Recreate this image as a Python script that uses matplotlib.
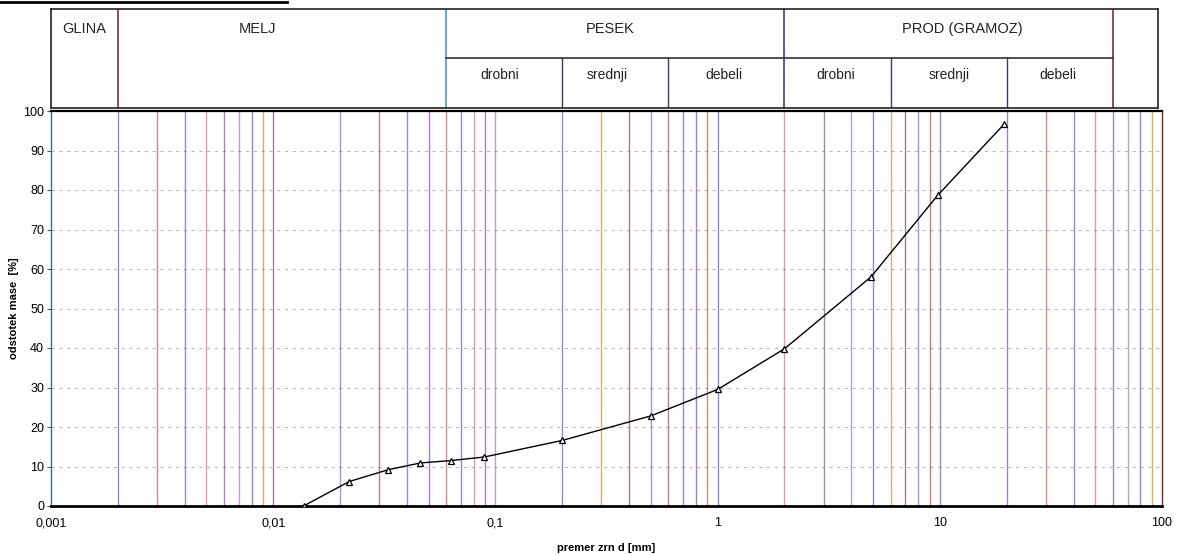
import numpy as np
import matplotlib
matplotlib.use("Agg")
import matplotlib.pyplot as plt
from matplotlib.lines import Line2D

plt.rcParams['font.family'] = ['Liberation Sans', 'DejaVu Sans']

# ---- data ----
grain_d = [0.0137, 0.022, 0.033, 0.046, 0.063, 0.089, 0.2, 0.5, 1.0, 2.0, 4.9, 9.8, 19.5]
mass_pct = [0.0, 6.2, 9.2, 10.9, 11.5, 12.4, 16.6, 22.8, 29.5, 39.8, 58.0, 78.7, 96.7]

x_ticks = [0.001, 0.01, 0.1, 1, 10, 100]
x_tick_labels = ["0,001", "0,01", "0,1", "1", "10", "100"]
y_ticks = [0, 10, 20, 30, 40, 50, 60, 70, 80, 90, 100]

main_bounds = [0.002, 0.06, 2, 60]
main_names = ["GLINA", "MELJ", "PESEK", "PROD (GRAMOZ)"]
main_label_x = [0.00141, 0.0085, 0.33, 12.6]
sub_bounds = [0.2, 0.6, 6, 20]
sub_names = ["drobni", "srednji", "debeli", "drobni", "srednji", "debeli"]
sub_label_x = [0.105, 0.32, 1.07, 3.4, 11.0, 34.0]

W, H = 1177, 555
fig = plt.figure(figsize=(W / 100, H / 100), dpi=100)

# main plot
L, R, T, B = 51, 1162, 111, 506
ax = fig.add_axes([L / W, 1 - B / H, (R - L) / W, (B - T) / H])
ax.set_xscale('log')
ax.set_xlim(0.001, 100)
ax.set_ylim(0, 100)

grid_colors = ['#a070b8', '#d07a7a', '#8a7ad0', '#e09090', '#9a78b0', '#b890cc',
               '#7f7fd0', '#d0a860', '#a06aa0', '#8a90d8', '#c07070', '#9080c0']
ci = 0
for k in range(-3, 2):
    for m in range(1, 10):
        xv = m * 10.0 ** k
        if xv <= 0.001 or xv >= 100:
            continue
        ax.axvline(xv, color=grid_colors[ci % len(grid_colors)], lw=1.0, alpha=0.9, zorder=1)
        ci += 1

for yv in y_ticks[1:-1]:
    ax.axhline(yv, color='#555555', lw=0.8, ls=(0, (3, 4)), alpha=0.4, zorder=1)

ax.plot(grain_d, mass_pct, color='black', lw=1.0, marker='^', ms=5,
        mfc='white', mec='black', mew=0.9, zorder=5)

ax.set_xticks(x_ticks)
ax.set_xticklabels(x_tick_labels)
ax.xaxis.set_minor_locator(matplotlib.ticker.NullLocator())
ax.set_yticks(y_ticks)
ax.tick_params(axis='x', length=0, pad=8, labelsize=9)
ax.tick_params(axis='y', length=3, width=0.8, pad=2, labelsize=9, color='#555555')

ax.set_xlabel("premer zrn d [mm]", fontsize=8, fontweight='bold', labelpad=10)
ax.set_ylabel("odstotek mase  [%]", fontsize=8, fontweight='bold')
ax.yaxis.set_label_coords(-0.029, 0.5)

for s in ['top', 'right', 'left']:
    ax.spines[s].set_linewidth(1.0)
ax.spines['left'].set_color('#3a5fb0')
ax.spines['right'].set_color('#7a2a2a')
ax.spines['top'].set_linewidth(1.6)
ax.spines['bottom'].set_linewidth(2.0)

# header table
HT, HB, HR = 9, 108, 1158
hx = fig.add_axes([L / W, 1 - HB / H, (HR - L) / W, (HB - HT) / H])
hx.set_xscale('log')
hx.set_xlim(0.001, 10 ** (-3 + (HR - L) / 222.2))
hx.set_ylim(0, 1)
hx.set_xticks([])
hx.set_yticks([])
hx.xaxis.set_minor_locator(matplotlib.ticker.NullLocator())
for s in hx.spines.values():
    s.set_linewidth(1.2)
    s.set_color('#222222')

mid = (HB - 58) / (HB - HT)
bcol = ['#7a1f1f', '#3b8fd0', '#2a2a80', '#6a2020']
for xv, c in zip(main_bounds, bcol):
    hx.axvline(xv, color=c, lw=1.1)
for xv in sub_bounds:
    hx.plot([xv, xv], [0, mid], color='#3a3a6a', lw=1.0)
hx.plot([0.06, 60], [mid, mid], color='#333333', lw=1.2)

for name, xv in zip(main_names, main_label_x):
    hx.text(xv, (HB - 29) / (HB - HT), name, ha='center', va='center', fontsize=10.5, color='#222222')
for name, xv in zip(sub_names, sub_label_x):
    hx.text(xv, (HB - 75) / (HB - HT), name, ha='center', va='center', fontsize=10, color='#222222')

# scan artefact line at very top-left
fig.add_artist(Line2D([0, 287 / W], [1 - 1.5 / H, 1 - 1.5 / H], color='black', lw=2.0))

fig.savefig("out.png", dpi=100)
